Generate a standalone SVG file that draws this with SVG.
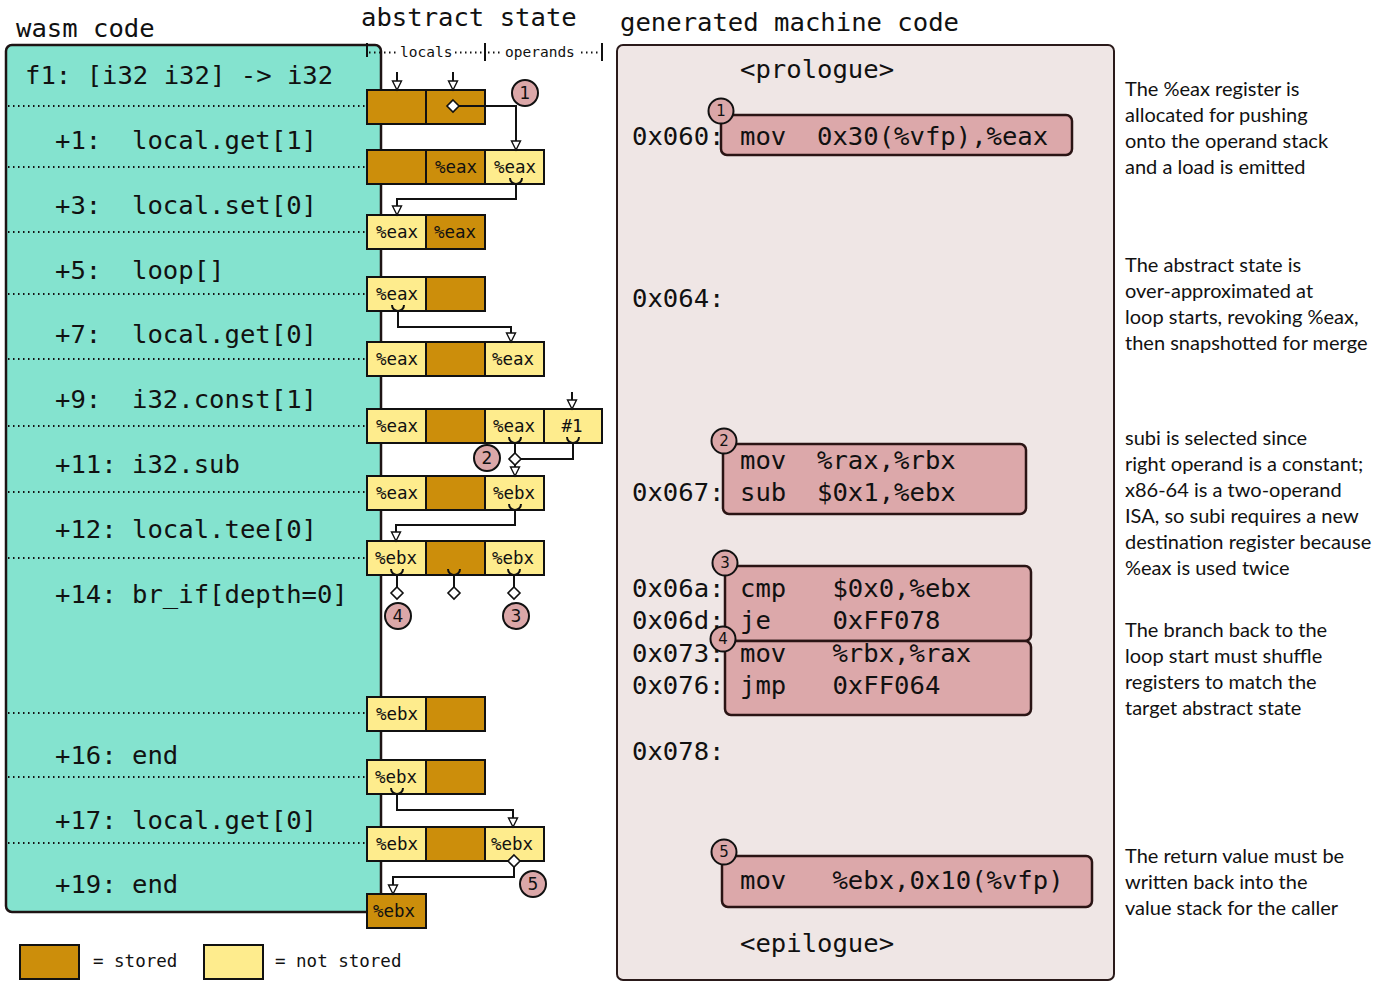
<svg xmlns="http://www.w3.org/2000/svg" width="1384" height="982" viewBox="0 0 1384 982">
<defs>
<style>
.title{font-family:"DejaVu Sans Mono",monospace;font-size:25.6px;fill:#111}
.mono{font-family:"DejaVu Sans Mono",monospace;font-size:25.6px;fill:#111}
.hdr{font-family:"DejaVu Sans Mono",monospace;font-size:14.5px;fill:#111}
.ct{font-family:"DejaVu Sans Mono",monospace;font-size:17.5px;fill:#111;text-anchor:middle}
.leg{font-family:"DejaVu Sans Mono",monospace;font-size:17.5px;fill:#111}
.note{font-family:Lato,"DejaVu Sans",sans-serif;font-size:20px;fill:#111}
.st{fill:#cc8e0b;stroke:#111;stroke-width:2}
.ns{fill:#feec8d;stroke:#111;stroke-width:2}
.dot{stroke:#111;stroke-width:2;stroke-dasharray:1.5 3.5;fill:none}
.ln{stroke:#111;stroke-width:2;fill:none}
.arr{stroke:#111;stroke-width:2;fill:none;marker-end:url(#ah)}
.dia{fill:#fff;stroke:#111;stroke-width:1.6}
.circ{fill:#dba7a8;stroke:#111;stroke-width:2}
.cn{font-family:"DejaVu Sans",sans-serif;font-size:17px;fill:#111;text-anchor:middle}
.cns{font-family:"DejaVu Sans",sans-serif;font-size:15px;fill:#111;text-anchor:middle}
.box{fill:#dca8aa;stroke:#2a1414;stroke-width:2.5}
</style>
<marker id="ah" markerUnits="userSpaceOnUse" markerWidth="14" markerHeight="14" viewBox="-2 -7 14 14" refX="9" refY="0" orient="auto" overflow="visible">
<path d="M0,-4.5 L9,0 L0,4.5 Z" fill="#fff" stroke="#111" stroke-width="1.4"/>
</marker>
</defs>
<rect width="1384" height="982" fill="#fff"/>

<g id="titles">
<text class="title" x="16" y="37">wasm code</text>
<text class="title" x="361" y="26">abstract state</text>
<text class="title" x="620" y="31">generated machine code</text>
</g>

<g id="wasm-code">
<rect x="6" y="45" width="375" height="867" rx="6" fill="#84e3cf" stroke="#1e1414" stroke-width="2.5"/>
<line class="dot" x1="8" y1="106" x2="366" y2="106"/>
<line class="dot" x1="8" y1="167" x2="366" y2="167"/>
<line class="dot" x1="8" y1="232" x2="366" y2="232"/>
<line class="dot" x1="8" y1="294" x2="366" y2="294"/>
<line class="dot" x1="8" y1="359" x2="366" y2="359"/>
<line class="dot" x1="8" y1="426" x2="366" y2="426"/>
<line class="dot" x1="8" y1="492" x2="366" y2="492"/>
<line class="dot" x1="8" y1="558" x2="366" y2="558"/>
<line class="dot" x1="8" y1="713" x2="366" y2="713"/>
<line class="dot" x1="8" y1="777" x2="366" y2="777"/>
<line class="dot" x1="8" y1="843" x2="366" y2="843"/>
<text class="mono" x="25" y="84" xml:space="preserve">f1: [i32 i32] -&gt; i32</text>
<text class="mono" x="55" y="149" xml:space="preserve">+1:  local.get[1]</text>
<text class="mono" x="55" y="214" xml:space="preserve">+3:  local.set[0]</text>
<text class="mono" x="55" y="279" xml:space="preserve">+5:  loop[]</text>
<text class="mono" x="55" y="343" xml:space="preserve">+7:  local.get[0]</text>
<text class="mono" x="55" y="408" xml:space="preserve">+9:  i32.const[1]</text>
<text class="mono" x="55" y="473" xml:space="preserve">+11: i32.sub</text>
<text class="mono" x="55" y="538" xml:space="preserve">+12: local.tee[0]</text>
<text class="mono" x="55" y="603" xml:space="preserve">+14: br_if[depth=0]</text>
<text class="mono" x="55" y="764" xml:space="preserve">+16: end</text>
<text class="mono" x="55" y="829" xml:space="preserve">+17: local.get[0]</text>
<text class="mono" x="55" y="893" xml:space="preserve">+19: end</text>
</g>

<g id="state-header">
<line class="ln" x1="367" y1="43" x2="367" y2="57" stroke-width="1.5"/>
<line class="dot" x1="369" y1="52.5" x2="398" y2="52.5" stroke-width="1.6"/>
<text class="hdr" x="400" y="57">locals</text>
<line class="dot" x1="455" y1="52.5" x2="483" y2="52.5" stroke-width="1.6"/>
<line class="ln" x1="485" y1="43" x2="485" y2="61" stroke-width="2.5"/>
<line class="dot" x1="488" y1="52.5" x2="503" y2="52.5" stroke-width="1.6"/>
<text class="hdr" x="505" y="57">operands</text>
<line class="dot" x1="581" y1="52.5" x2="600" y2="52.5" stroke-width="1.6"/>
<line class="ln" x1="602" y1="43" x2="602" y2="61" stroke-width="2.5"/>
</g>

<g id="state-r0"><rect class="st" x="367" y="90" width="59" height="34"/><rect class="st" x="426" y="90" width="59" height="34"/></g>
<g id="state-r1"><rect class="st" x="367" y="150" width="59" height="34"/><rect class="st" x="426" y="150" width="59" height="34"/><rect class="ns" x="485" y="150" width="59" height="34"/><text class="ct" x="456" y="173">%eax</text><text class="ct" x="515" y="173">%eax</text></g>
<g id="state-r2"><rect class="ns" x="367" y="215" width="59" height="34"/><rect class="st" x="426" y="215" width="59" height="34"/><text class="ct" x="397" y="238">%eax</text><text class="ct" x="455" y="238">%eax</text></g>
<g id="state-r3"><rect class="ns" x="367" y="277" width="59" height="34"/><rect class="st" x="426" y="277" width="59" height="34"/><text class="ct" x="397" y="300">%eax</text></g>
<g id="state-r4"><rect class="ns" x="367" y="342" width="59" height="34"/><rect class="st" x="426" y="342" width="59" height="34"/><rect class="ns" x="485" y="342" width="59" height="34"/><text class="ct" x="397" y="365">%eax</text><text class="ct" x="513" y="365">%eax</text></g>
<g id="state-r5"><rect class="ns" x="367" y="409" width="59" height="34"/><rect class="st" x="426" y="409" width="59" height="34"/><rect class="ns" x="485" y="409" width="59" height="34"/><rect class="ns" x="544" y="409" width="58" height="34"/><text class="ct" x="397" y="432">%eax</text><text class="ct" x="514" y="432">%eax</text><text class="ct" x="572" y="432">#1</text></g>
<g id="state-r6"><rect class="ns" x="367" y="476" width="59" height="34"/><rect class="st" x="426" y="476" width="59" height="34"/><rect class="ns" x="485" y="476" width="59" height="34"/><text class="ct" x="397" y="499">%eax</text><text class="ct" x="514" y="499">%ebx</text></g>
<g id="state-r7"><rect class="ns" x="367" y="541" width="59" height="34"/><rect class="st" x="426" y="541" width="59" height="34"/><rect class="ns" x="485" y="541" width="59" height="34"/><text class="ct" x="396" y="564">%ebx</text><text class="ct" x="513" y="564">%ebx</text></g>
<g id="state-r8"><rect class="ns" x="367" y="697" width="59" height="34"/><rect class="st" x="426" y="697" width="59" height="34"/><text class="ct" x="397" y="720">%ebx</text></g>
<g id="state-r9"><rect class="ns" x="367" y="760" width="59" height="34"/><rect class="st" x="426" y="760" width="59" height="34"/><text class="ct" x="396" y="783">%ebx</text></g>
<g id="state-r10"><rect class="ns" x="367" y="827" width="59" height="34"/><rect class="st" x="426" y="827" width="59" height="34"/><rect class="ns" x="485" y="827" width="59" height="34"/><text class="ct" x="397" y="850">%ebx</text><text class="ct" x="512" y="850">%ebx</text></g>
<g id="state-r11"><rect class="st" x="367" y="894" width="59" height="34"/><text class="ct" x="394" y="917">%ebx</text></g>

<g id="connectors">
<path class="arr" d="M397,72 V90"/>
<path class="arr" d="M453,72 V90"/>
<path class="arr" d="M453,106 H516 V150"/>
<path class="ln" d="M510,178 a6,6 0 0 0 12,0"/>
<path class="arr" d="M516,184 V199 H397 V215"/>
<path class="ln" d="M392,305 a6,6 0 0 0 12,0"/>
<path class="arr" d="M398,311 V327 H511 V342"/>
<path class="arr" d="M572,392 V409"/>
<path class="ln" d="M509,437 a6,6 0 0 0 12,0"/>
<path class="ln" d="M567,437 a6,6 0 0 0 12,0"/>
<path class="ln" d="M573,443 V459 H515"/>
<path class="arr" d="M515,443 V476"/>
<path class="ln" d="M509,504 a6,6 0 0 0 12,0"/>
<path class="arr" d="M515,510 V525 H396 V541"/>
<path class="ln" d="M391,569 a6,6 0 0 0 12,0"/>
<path class="ln" d="M448,569 a6,6 0 0 0 12,0"/>
<path class="ln" d="M508,569 a6,6 0 0 0 12,0"/>
<path class="ln" d="M397,575 V593"/>
<path class="ln" d="M454,575 V593"/>
<path class="ln" d="M514,575 V593"/>
<path class="ln" d="M391,788 a6,6 0 0 0 12,0"/>
<path class="arr" d="M397,794 V810 H513 V827"/>
<path class="arr" d="M514,861 V877 H393 V894"/>
<polygon class="dia" points="453,100 459,106 453,112 447,106"/>
<polygon class="dia" points="515,453 521,459 515,465 509,459"/>
<polygon class="dia" points="397,587 403,593 397,599 391,593"/>
<polygon class="dia" points="454,587 460,593 454,599 448,593"/>
<polygon class="dia" points="514,587 520,593 514,599 508,593"/>
<polygon class="dia" points="514,855 520,861 514,867 508,861"/>
</g>

<g id="state-markers">
<circle class="circ" cx="525" cy="93" r="13"/><text class="cn" x="525" y="99">1</text>
<circle class="circ" cx="487" cy="458" r="13"/><text class="cn" x="487" y="464">2</text>
<circle class="circ" cx="516" cy="616" r="13"/><text class="cn" x="516" y="622">3</text>
<circle class="circ" cx="398" cy="616" r="13"/><text class="cn" x="398" y="622">4</text>
<circle class="circ" cx="533" cy="884" r="13"/><text class="cn" x="533" y="890">5</text>
</g>

<g id="machine-code">
<rect x="617" y="45" width="497" height="935" rx="6" fill="#efe6e5" stroke="#2a1a1a" stroke-width="2"/>
<text class="mono" x="740" y="78">&lt;prologue&gt;</text>
<text class="mono" x="632" y="145">0x060:</text>
<text class="mono" x="632" y="307">0x064:</text>
<text class="mono" x="632" y="501">0x067:</text>
<text class="mono" x="632" y="597">0x06a:</text>
<text class="mono" x="632" y="629">0x06d:</text>
<text class="mono" x="632" y="662">0x073:</text>
<text class="mono" x="632" y="694">0x076:</text>
<text class="mono" x="632" y="760">0x078:</text>
<text class="mono" x="740" y="952">&lt;epilogue&gt;</text>
</g>

<g id="mc-1">
<rect class="box" x="721" y="115" width="351" height="40" rx="6"/>
<text class="mono" x="740" y="145" xml:space="preserve">mov  0x30(%vfp),%eax</text>
<circle class="circ" cx="721" cy="111" r="12.5"/><text class="cns" x="721" y="116">1</text>
</g>
<g id="mc-2">
<rect class="box" x="723" y="444" width="303" height="70" rx="6"/>
<text class="mono" x="740" y="469" xml:space="preserve">mov  %rax,%rbx</text>
<text class="mono" x="740" y="501" xml:space="preserve">sub  $0x1,%ebx</text>
<circle class="circ" cx="724" cy="441" r="12.5"/><text class="cns" x="724" y="446">2</text>
</g>
<g id="mc-3">
<rect class="box" x="725" y="566" width="306" height="75" rx="6"/>
<text class="mono" x="740" y="597" xml:space="preserve">cmp   $0x0,%ebx</text>
<text class="mono" x="740" y="629" xml:space="preserve">je    0xFF078</text>
<circle class="circ" cx="725" cy="563" r="12.5"/><text class="cns" x="725" y="568">3</text>
</g>
<g id="mc-4">
<rect class="box" x="725" y="641" width="306" height="74" rx="6"/>
<text class="mono" x="740" y="662" xml:space="preserve">mov   %rbx,%rax</text>
<text class="mono" x="740" y="694" xml:space="preserve">jmp   0xFF064</text>
<circle class="circ" cx="723" cy="639" r="12.5"/><text class="cns" x="723" y="644">4</text>
</g>
<g id="mc-5">
<rect class="box" x="722" y="856" width="370" height="51" rx="6"/>
<text class="mono" x="740" y="889" xml:space="preserve">mov   %ebx,0x10(%vfp)</text>
<circle class="circ" cx="724" cy="852" r="12.5"/><text class="cns" x="724" y="857">5</text>
</g>

<g id="notes">
<text class="note" x="1125" y="96">The %eax register is</text>
<text class="note" x="1125" y="122">allocated for pushing</text>
<text class="note" x="1125" y="148">onto the operand stack</text>
<text class="note" x="1125" y="174">and a load is emitted</text>
<text class="note" x="1125" y="272">The abstract state is</text>
<text class="note" x="1125" y="298">over-approximated at</text>
<text class="note" x="1125" y="324">loop starts, revoking %eax,</text>
<text class="note" x="1125" y="350">then snapshotted for merge</text>
<text class="note" x="1125" y="445">subi is selected since</text>
<text class="note" x="1125" y="471">right operand is a constant;</text>
<text class="note" x="1125" y="497">x86-64 is a two-operand</text>
<text class="note" x="1125" y="523">ISA, so subi requires a new</text>
<text class="note" x="1125" y="549">destination register because</text>
<text class="note" x="1125" y="575">%eax is used twice</text>
<text class="note" x="1125" y="637">The branch back to the</text>
<text class="note" x="1125" y="663">loop start must shuffle</text>
<text class="note" x="1125" y="689">registers to match the</text>
<text class="note" x="1125" y="715">target abstract state</text>
<text class="note" x="1125" y="863">The return value must be</text>
<text class="note" x="1125" y="889">written back into the</text>
<text class="note" x="1125" y="915">value stack for the caller</text>
</g>

<g id="legend">
<rect class="st" x="20" y="945" width="59" height="34"/>
<text class="leg" x="93" y="967">= stored</text>
<rect class="ns" x="204" y="945" width="59" height="34"/>
<text class="leg" x="275" y="967">= not stored</text>
</g>
</svg>
